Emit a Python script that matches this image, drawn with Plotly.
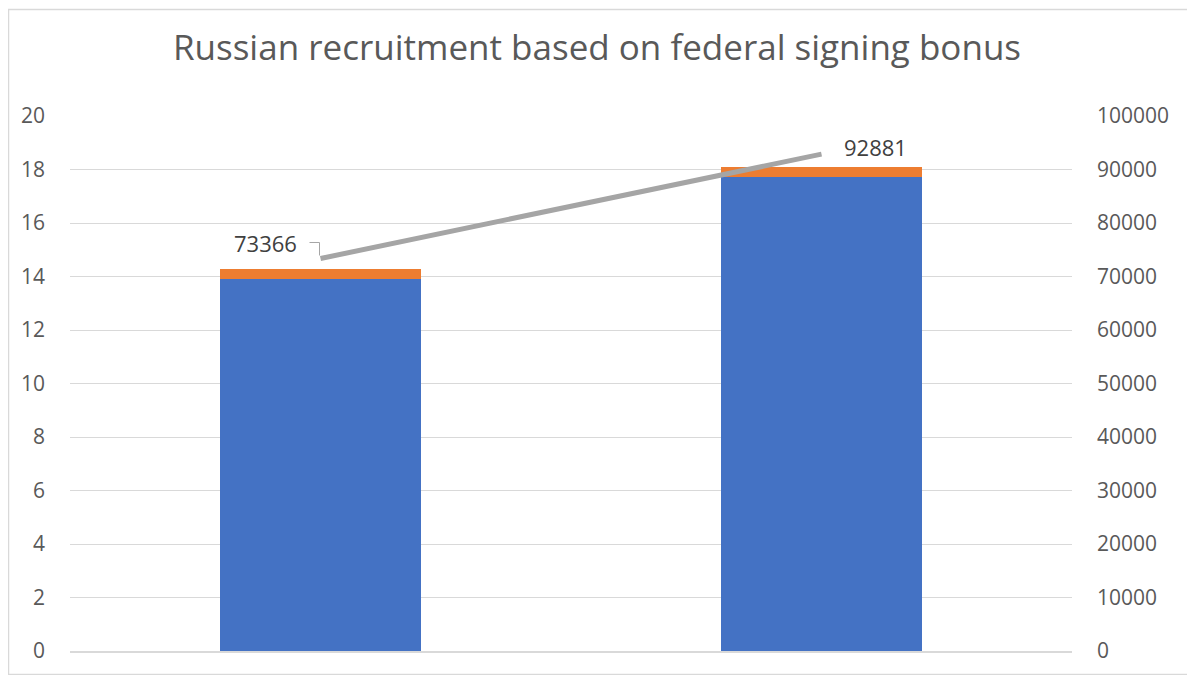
import plotly.graph_objects as go

categories = ["Period 1", "Period 2"]
blue_values = [13.9, 17.72]
orange_values = [0.38, 0.37]
line_values = [73366, 92881]
left_ticks = [0, 2, 4, 6, 8, 10, 12, 14, 16, 18, 20]
right_ticks = [0, 10000, 20000, 30000, 40000, 50000, 60000, 70000, 80000, 90000, 100000]

# page body adds an 8px offset, so the figure is sized to fit the window
W, H = 1187, 667
ml, mr, mt, mb = 62, 123, 108, 24
pw, ph = W - ml - mr, H - mt - mb

fig = go.Figure()
fig.add_trace(go.Bar(x=categories, y=blue_values, marker=dict(color="#4472C4", line=dict(width=0)),
                     width=0.4, showlegend=False, hoverinfo="skip"))
fig.add_trace(go.Bar(x=categories, y=orange_values, marker=dict(color="#ED7D31", line=dict(width=0)),
                     width=0.4, showlegend=False, hoverinfo="skip"))
fig.add_trace(go.Scatter(x=categories, y=line_values, yaxis="y2", mode="lines",
                         line=dict(color="#A5A5A5", width=5), showlegend=False, hoverinfo="skip"))

# data labels
fig.add_shape(type="path", xref="x", yref="y2", xsizemode="pixel", ysizemode="pixel",
              xanchor=categories[0], yanchor=line_values[0],
              path="M -1,3 L -1,16 L -11,16", line=dict(color="#A5A5A5", width=1))
fig.add_annotation(x=categories[0], y=line_values[0], yref="y2", text=f"{line_values[0]}",
                   showarrow=False, xanchor="right", yanchor="middle", xshift=-22, yshift=15,
                   font=dict(size=22, color="#404040"))
fig.add_annotation(x=categories[1], y=line_values[1], yref="y2", text=f"{line_values[1]}",
                   showarrow=False, xanchor="left", yanchor="middle", xshift=20, yshift=7,
                   font=dict(size=22, color="#404040"))

# outer border
fig.add_shape(type="rect", xref="paper", yref="paper",
              x0=(0.5 - ml) / pw, x1=(W - 1.5 - ml) / pw,
              y0=-(mb - 0.5) / ph, y1=1 + (mt - 1.5) / ph,
              line=dict(color="#D9D9D9", width=1.5), layer="below")

fig.update_layout(
    width=W, height=H,
    margin=dict(l=ml, r=mr, t=mt, b=mb, autoexpand=False),
    barmode="stack", bargap=0.6,
    paper_bgcolor="white", plot_bgcolor="white",
    font=dict(family="Open Sans", color="#595959"),
    title=dict(text="Russian recruitment based on federal signing bonus", x=(597 - 8) / W,
               xref="container", xanchor="center",
               y=1 - 40 / H, yanchor="middle", font=dict(size=35, color="#595959")),
    xaxis=dict(showticklabels=False, showgrid=False, zeroline=False, showline=True,
               linecolor="#D9D9D9", linewidth=1.5, ticks=""),
    yaxis=dict(range=[0, 20], tickvals=left_ticks, showgrid=True, gridcolor="#D9D9D9", gridwidth=1,
               zeroline=False, showline=False, tickfont=dict(size=21, color="#595959"),
               ticklabelstandoff=24),
    yaxis2=dict(range=[0, 100000], tickvals=right_ticks, ticktext=[str(v) for v in right_ticks],
                overlaying="y", side="right",
                showgrid=False, zeroline=False, showline=False,
                tickfont=dict(size=21, color="#595959"), ticklabelstandoff=24),
)

fig.write_html("out.html")
